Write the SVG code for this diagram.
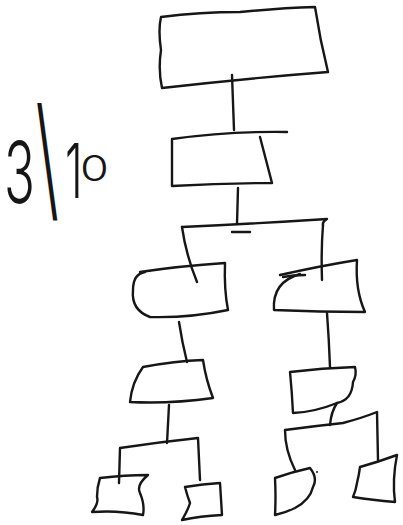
<svg xmlns="http://www.w3.org/2000/svg" width="403" height="525" viewBox="0 0 403 525">
<style>
.s{fill:none;stroke:#161616;stroke-width:2.4;stroke-linecap:round;stroke-linejoin:round}
.t{font-family:Inter,Roboto,Lato,"DejaVu Sans",sans-serif;font-weight:300;fill:#161616}
</style>
<rect width="403" height="525" fill="#fff"/>
<g id="label">
<text class="t" font-size="85" transform="translate(4,203) scale(0.6,1)">3</text>
<text class="t" font-size="135" font-weight="200" transform="translate(59,206) scale(-0.5,1)">/</text>
<text class="t" font-size="75" transform="translate(65,198) scale(0.6,1)">1</text>
<text class="t" font-size="36" transform="translate(80,181) scale(1.3,1)">0</text>
</g>
<g id="connectors">
<path class="s" d="M232,75 Q233,100 234,130"/>
<path class="s" d="M238,188 L237,224"/>
<path class="s" d="M182,227 Q250,224 327,219 Q322,222 323,225"/>
<path class="s" d="M232,232 L250,232"/>
<path class="s" d="M182,227 Q186,255 197,282"/>
<path class="s" d="M323,225 Q321,250 322,280"/>
<path class="s" d="M179,322 Q182,342 187,362"/>
<path class="s" d="M327,313 Q329,340 330,367"/>
<path class="s" d="M169,405 L167,443"/>
<path class="s" d="M119,483 L120,448 Q160,442 198,438 L200,480"/>
<path class="s" d="M337,403 Q331,412 330,425"/>
<path class="s" d="M295,470 Q285,450 285,430 Q315,426 343,423 Q362,418 377,412 L378,460"/>
</g>
<g id="n1"><path class="s" d="M161,17 Q200,12 240,12 Q280,8 315,7 Q320,40 328,72 Q250,78 162,88 Q158,70 161,50 Q158,30 161,17 Z"/></g>
<g id="n2"><path class="s" d="M287,132 Q230,131 172,139 L172,186 Q222,183 272,183 Q266,160 260,137"/></g>
<g id="n3"><path class="s" d="M140,272 Q180,266 225,263 Q224,290 228,310 Q190,318 150,317 Q131,310 133,290 Q133,274 145,272"/></g>
<g id="n4"><path class="s" d="M280,275 Q320,266 357,260 Q355,290 365,312 Q320,312 274,310 Q272,282 300,274"/><path class="s" d="M283,277 Q293,275 305,275"/></g>
<g id="n5"><path class="s" d="M143,367 Q175,361 203,360 Q206,380 213,398 Q170,404 130,402 Q132,382 143,367 Z"/></g>
<g id="n6"><path class="s" d="M290,372 Q322,368 355,367 Q357,375 353,382 Q352,400 337,403 Q315,412 293,413 Q292,392 290,372 Z"/></g>
<g id="n7"><path class="s" d="M100,478 Q125,475 148,475 Q136,485 140,493 Q145,505 143,515 Q118,510 92,512 Q99,503 97,497 Q97,487 100,478 Z"/></g>
<g id="n8"><path class="s" d="M185,487 Q203,484 220,483 Q221,500 222,515 Q200,516 182,520 Q188,510 190,503 Q187,495 185,487 Z"/></g>
<g id="n9"><path class="s" d="M275,478 Q292,472 310,468 Q318,478 313,487 Q310,500 295,508 Q285,513 275,515 Q276,497 275,478 Z"/><circle cx="317" cy="472" r="1" fill="#161616"/></g>
<g id="n10"><path class="s" d="M360,467 Q378,462 397,455 Q392,480 395,502 Q372,500 353,497 Q356,490 357,483 Q359,475 360,467 Z"/></g>
</svg>
